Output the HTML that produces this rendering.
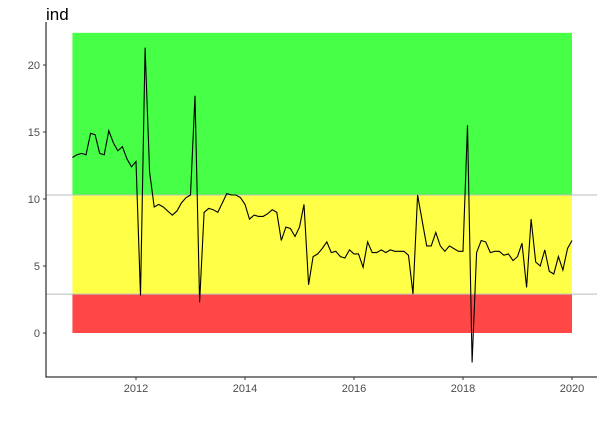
<!DOCTYPE html>
<html><head><meta charset="utf-8"><style>
body{margin:0;background:#fff;}
svg{display:block;font-family:"Liberation Sans",sans-serif;}
</style></head><body>
<svg id="c" width="605" height="422">
<text x="46" y="20" font-size="17" fill="#000">ind</text>
</svg>
<script>
const startYear = 2010 + 10/12;
const values = [13.1,13.3,13.4,13.3,14.9,14.8,13.4,13.3,15.1,14.2,13.6,13.9,13.0,12.4,12.8,2.8,21.3,12,9.4,9.6,9.4,9.1,8.8,9.1,9.7,10.1,10.3,17.7,2.3,9.0,9.3,9.2,9.0,9.7,10.4,10.3,10.3,10.1,9.6,8.5,8.8,8.7,8.7,8.9,9.2,9.0,6.9,7.9,7.8,7.2,7.9,9.6,3.6,5.7,5.9,6.3,6.8,6.0,6.1,5.7,5.6,6.2,5.9,5.9,4.9,6.8,6.0,6.0,6.2,6.0,6.2,6.1,6.1,6.1,5.8,2.9,10.3,8.4,6.5,6.5,7.5,6.5,6.1,6.5,6.3,6.1,6.1,15.5,-2.2,6.0,6.9,6.8,6.0,6.1,6.1,5.8,5.9,5.4,5.7,6.7,3.4,8.5,5.3,5.0,6.2,4.6,4.4,5.7,4.7,6.3,6.9];
const bandBreaks = [0, 2.9, 10.3, 22.4];
const bandColors = ["#ff4747","#ffff47","#47ff47"];
const yTicks = [0,5,10,15,20];
const xTicks = [2012,2014,2016,2018,2020];
const NS="http://www.w3.org/2000/svg";
const svg=document.getElementById('c');
const X=v=>136+(v-2012)*54.5;
const Y=v=>333-v*13.4;
function mk(t,a){const e=document.createElementNS(NS,t);for(const k in a)e.setAttribute(k,a[k]);svg.appendChild(e);return e;}
const x0=X(startYear), x1=X(startYear+(values.length-1)/12);
for(let i=0;i<bandColors.length;i++){
  const r=mk('rect',{x:x0,y:Y(bandBreaks[i+1]),width:x1-x0,height:Y(bandBreaks[i])-Y(bandBreaks[i+1]),fill:bandColors[i]});
  
  
}
[bandBreaks[1],bandBreaks[2]].forEach((b,i)=>{
  const l=mk('line',{x1:46,x2:597,y1:Y(b),y2:Y(b),stroke:'#bebebe','stroke-width':1});
  
  
});
const pts=values.map((v,i)=>X(startYear+i/12).toFixed(1)+','+Y(v).toFixed(1)).join(' ');
const pl=mk('polyline',{points:pts,fill:'none',stroke:'#000','stroke-width':1.1});


const ax=mk('path',{d:'M46,22V377H597',fill:'none',stroke:'#000','stroke-width':1});


yTicks.forEach(t=>{
  mk('line',{x1:43,x2:46,y1:Y(t),y2:Y(t),stroke:'#333'});
  const tx=mk('text',{x:40,y:Y(t)+4,'text-anchor':'end','font-size':11,fill:'#4d4d4d'});
  tx.textContent=t;
  
  
});
xTicks.forEach(t=>{
  mk('line',{x1:X(t),x2:X(t),y1:377,y2:380,stroke:'#333'});
  const tx=mk('text',{x:X(t),y:392,'text-anchor':'middle','font-size':11,fill:'#4d4d4d'});
  tx.textContent=t;
  
  
});
</script>
</body></html>
